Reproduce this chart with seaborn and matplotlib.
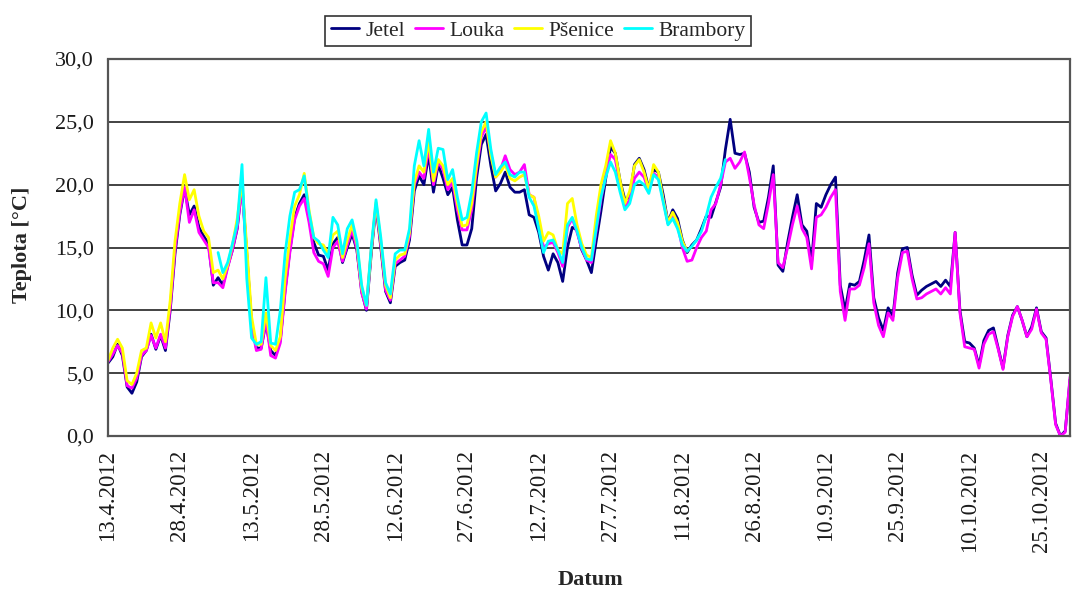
import matplotlib
matplotlib.use("Agg")
import matplotlib.pyplot as plt
import matplotlib.dates as mdates
from matplotlib.ticker import FuncFormatter, FixedLocator
import numpy as np
import pandas as pd
import seaborn as sns

# Daily mean soil temperature under four crops, 13.4.2012 - 31.10.2012
start_date = "2012-04-13"

jetel = [
    5.8, 6.3, 7.3, 6.4, 3.9, 3.4, 4.3, 6.3, 6.8, 8.1,
    6.9, 8.0, 6.8, 10.0, 14.5, 17.6, 19.7, 17.6, 18.3, 16.6,
    15.9, 15.3, 12.0, 12.6, 12.0, 13.5, 14.8, 16.5, 20.0, 14.5,
    9.0, 7.0, 7.0, 9.0, 6.8, 6.4, 7.6, 11.6, 14.8, 17.4,
    18.5, 19.2, 17.4, 15.4, 14.4, 14.3, 13.2, 15.3, 15.8, 13.8,
    15.0, 16.1, 14.8, 11.5, 10.0, 14.5, 18.3, 15.0, 11.5, 10.6,
    13.5, 13.8, 14.0, 15.6, 19.5, 20.7, 20.0, 22.4, 19.4, 21.6,
    20.5, 19.2, 19.8, 17.2, 15.2, 15.2, 16.5, 20.5, 23.2, 24.0,
    21.5, 19.5, 20.1, 21.0, 19.8, 19.4, 19.4, 19.6, 17.6, 17.4,
    16.2, 14.3, 13.2, 14.5, 13.8, 12.3, 15.0, 16.6, 16.4, 14.8,
    14.0, 13.0, 15.5, 17.9, 20.5, 23.0, 22.5, 20.3, 18.8, 19.0,
    21.6, 22.1, 21.2, 19.7, 21.2, 21.0, 19.2, 17.0, 18.0, 17.3,
    15.6, 14.6, 15.2, 15.6, 16.5, 17.5, 17.4, 18.6, 19.8, 22.8,
    25.2, 22.5, 22.4, 22.5, 21.0, 18.2, 17.0, 17.1, 19.0, 21.5,
    13.6, 13.1, 15.4, 17.4, 19.2, 16.8, 16.3, 13.8, 18.5, 18.2,
    19.2, 20.0, 20.6, 12.0, 10.0, 12.1, 12.0, 12.3, 14.0, 16.0,
    11.0, 9.4, 8.4, 10.2, 9.5, 13.0, 14.9, 15.0, 12.8, 11.2,
    11.6, 11.9, 12.1, 12.3, 11.9, 12.4, 11.9, 16.2, 10.0, 7.5,
    7.4, 7.0, 5.6, 7.6, 8.4, 8.6, 7.0, 5.4, 8.0, 9.6,
    10.3, 9.2, 7.9, 8.7, 10.2, 8.3, 7.8, 4.5, 1.0, 0.0,
    0.4, 4.5,
]

louka = [
    5.9, 6.5, 7.2, 6.6, 4.0, 3.8, 4.6, 6.4, 6.8, 8.0,
    7.0, 8.1, 7.0, 10.2, 14.8, 17.8, 19.8, 17.0, 18.0, 16.2,
    15.6, 15.0, 12.2, 12.2, 11.8, 13.4, 14.8, 16.6, 19.8, 14.2,
    8.8, 6.8, 6.9, 9.2, 6.4, 6.2, 7.4, 11.4, 14.6, 17.2,
    18.3, 18.9, 17.0, 14.6, 13.9, 13.7, 12.7, 15.0, 15.5, 13.9,
    15.2, 16.4, 14.9, 11.4, 10.1, 14.8, 18.4, 15.2, 11.6, 10.8,
    13.7, 14.0, 14.3, 15.9, 20.0, 21.0, 20.5, 23.0, 20.0, 21.8,
    21.2, 19.6, 20.2, 18.0, 16.4, 16.4, 18.0, 21.2, 23.8, 24.6,
    22.5, 20.6, 21.2, 22.3, 21.2, 20.8, 21.0, 21.6, 19.2, 19.0,
    17.0, 15.0, 15.3, 15.4, 14.6, 13.5, 16.6, 17.3, 16.2, 14.9,
    14.0, 13.8, 16.3, 18.8, 20.8, 22.4, 22.0, 20.0, 18.2, 18.8,
    20.5, 21.0, 20.6, 19.5, 20.9, 20.6, 18.8, 16.9, 17.6, 16.8,
    15.0, 13.9, 14.0, 15.0, 15.8, 16.3, 18.0, 18.5, 20.0, 21.8,
    22.1, 21.3, 21.8, 22.6, 20.6, 18.4, 16.8, 16.5, 18.5, 20.8,
    13.8, 13.4, 15.0, 16.8, 18.3, 16.5, 15.8, 13.3, 17.4, 17.6,
    18.2, 19.0, 19.6, 11.5, 9.2, 11.7, 11.7, 12.0, 13.4, 15.3,
    10.6, 8.8, 7.9, 9.8, 9.2, 12.6, 14.6, 14.7, 12.5, 10.9,
    11.0, 11.3, 11.5, 11.7, 11.3, 11.8, 11.3, 16.2, 9.8, 7.1,
    7.0, 6.9, 5.4, 7.3, 8.1, 8.3, 6.9, 5.3, 7.9, 9.5,
    10.3, 9.2, 7.9, 8.5, 10.1, 8.2, 7.7, 4.4, 0.9, 0.0,
    0.3, 4.7,
]

psenice = [
    6.0, 7.0, 7.7, 7.0, 4.4, 4.1, 5.0, 6.8, 7.0, 9.0,
    7.8, 9.0, 7.5, 10.8, 15.5, 18.5, 20.8, 18.8, 19.6, 17.5,
    16.3, 15.8, 13.0, 13.2, 12.5, 13.6, 15.2, 17.3, 20.3, 15.0,
    9.5, 7.3, 7.3, 9.8, 7.2, 6.8, 7.9, 12.5, 15.7, 18.3,
    19.2, 20.9, 18.0, 15.8, 15.3, 15.2, 14.5, 16.0, 16.3, 14.2,
    15.6, 16.8, 15.3, 11.8, 10.4, 14.8, 18.6, 15.5, 12.0, 11.0,
    14.0, 14.4, 14.5, 16.2, 20.2, 21.5, 21.0, 23.5, 20.3, 22.0,
    21.5, 20.0, 20.5, 18.5, 16.7, 16.8, 18.5, 21.5, 24.2, 25.0,
    22.3, 20.6, 21.0, 21.6, 20.5, 20.3, 20.6, 20.8, 19.2, 19.0,
    17.5, 15.5, 16.2, 16.0, 14.8, 14.5, 18.5, 18.9, 16.8, 15.3,
    14.4, 14.2, 17.5, 20.0, 21.5, 23.5, 22.5, 20.3, 18.5, 19.5,
    21.5, 22.0, 21.0, 19.6, 21.6, 21.0, 18.8, 17.0, 17.8, 17.0,
    15.5, 14.7,
]

# Brambory measurements begin on 6.5.2012
brambory_start = "2012-05-06"
brambory = [
    14.6, 13.0, 13.8, 15.3, 16.9, 21.6, 12.5,
    7.8, 7.3, 7.5, 12.6, 7.4, 7.3, 10.0, 14.5, 17.5, 19.4,
    19.6, 20.7, 17.8, 15.8, 15.5, 14.8, 14.2, 17.4, 16.8, 14.5,
    16.5, 17.2, 15.5, 12.0, 10.4, 15.0, 18.8, 15.8, 12.2, 11.3,
    14.5, 14.8, 14.8, 16.5, 21.5, 23.5, 21.5, 24.4, 21.0, 22.9,
    22.8, 20.4, 21.2, 19.0, 17.2, 17.4, 19.4, 22.5, 25.0, 25.7,
    22.8, 20.8, 21.4, 21.8, 20.8, 20.6, 21.0, 21.0, 19.0, 18.3,
    16.5, 14.6, 15.5, 15.6, 14.8, 13.8, 16.8, 17.4, 16.3, 15.0,
    14.1, 14.0, 16.5, 19.0, 20.6, 21.8, 21.0, 19.4, 18.0, 18.5,
    20.0, 20.3, 20.0, 19.3, 20.8, 20.4, 18.6, 16.8, 17.3, 16.5,
    15.2, 14.7, 15.1, 15.6, 16.3, 17.5, 19.0, 19.8, 20.5, 22.0,
]

series_names = ["Jetel", "Louka", "Pšenice", "Brambory"]
series_colors = ["#000080", "#FF00FF", "#FFFF00", "#00FFFF"]
y_ticks = [0, 5, 10, 15, 20, 25, 30]


def frame(name, values, first_day):
    return pd.DataFrame({
        "Datum": pd.date_range(first_day, periods=len(values), freq="D"),
        "Teplota": values,
        "Plodina": name,
    })


df = pd.concat([
    frame("Jetel", jetel, start_date),
    frame("Louka", louka, start_date),
    frame("Pšenice", psenice, start_date),
    frame("Brambory", brambory, brambory_start),
], ignore_index=True)

sns.set_theme(style="white")
serif = ["Liberation Serif", "DejaVu Serif"]
plt.rcParams["font.family"] = serif

fig = plt.figure(figsize=(10.72, 5.90), dpi=100)
ax = fig.add_axes([108 / 1072, 1 - 436 / 590, (1070 - 108) / 1072, (436 - 59) / 590])

sns.lineplot(data=df, x="Datum", y="Teplota", hue="Plodina",
             hue_order=series_names, palette=series_colors,
             linewidth=2.0, ax=ax, legend=True)

handles, labels = ax.get_legend_handles_labels()
ax.get_legend().remove()

# Axis limits and ticks
x0 = pd.Timestamp(start_date)
x1 = pd.Timestamp("2012-10-31")
ax.set_xlim(x0, x1)
ax.set_ylim(0, 30)

tick_days = pd.date_range(x0, x1, freq="5D")
ax.xaxis.set_major_locator(FixedLocator(mdates.date2num(tick_days)))


def date_label(v, pos):
    d = mdates.num2date(v)
    off = (d.date() - x0.date()).days
    if off % 15 != 0:
        return ""
    return f"{d.day}.{d.month}.{d.year}"


ax.xaxis.set_major_formatter(FuncFormatter(date_label))
ax.set_yticks(y_ticks)
ax.yaxis.set_major_formatter(FuncFormatter(lambda v, p: f"{v:.1f}".replace(".", ",")))

ax.tick_params(axis="x", which="major", direction="out", length=6, width=1,
               color="black", labelsize=16.5, labelrotation=90, pad=4)
ax.tick_params(axis="y", which="major", direction="out", length=7, width=1,
               color="black", labelsize=16, pad=3)
for lab in ax.get_xticklabels() + ax.get_yticklabels():
    lab.set_family(serif)
    lab.set_color("#1a1a1a")

# Horizontal gridlines
ax.grid(False)
for yv in y_ticks[1:-1]:
    ax.axhline(yv, color="#222222", linewidth=1.2, zorder=0)

for side in ["left", "right", "top", "bottom"]:
    sp = ax.spines[side]
    sp.set_visible(True)
    sp.set_color("#555555")
    sp.set_linewidth(1.6)
    sp.set_linestyle((0, (1, 1)))

ax.set_xlabel("")
ax.set_ylabel("")
fig.text(590 / 1072, 1 - 580 / 590, "Datum", ha="center", va="center",
         fontsize=16, fontweight="bold", family=serif)
fig.text(22 / 1072, 1 - 245 / 590, "Teplota [°C]", ha="center", va="center",
         rotation=90, fontsize=16, fontweight="bold", family=serif)

leg = fig.legend(handles, labels, loc="center", ncol=4,
                 bbox_to_anchor=(538 / 1072, 1 - 31 / 590),
                 frameon=True, fancybox=False, shadow=False,
                 prop={"family": serif, "size": 15.5},
                 handlelength=1.3, handletextpad=0.3, columnspacing=0.45,
                 borderpad=0.25, borderaxespad=0)
leg.get_frame().set_edgecolor("black")
leg.get_frame().set_linewidth(1.2)
for h in leg.get_lines():
    h.set_linewidth(2.0)

fig.savefig("out.png", dpi=100, facecolor="white")
